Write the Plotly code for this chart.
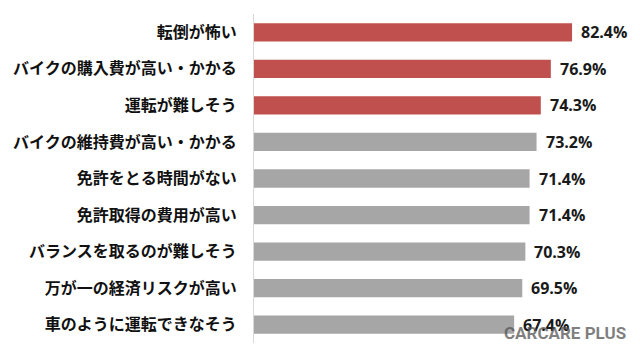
import plotly.graph_objects as go

categories = [
    "転倒が怖い",
    "バイクの購入費が高い・かかる",
    "運転が難しそう",
    "バイクの維持費が高い・かかる",
    "免許をとる時間がない",
    "免許取得の費用が高い",
    "バランスを取るのが難しそう",
    "万が一の経済リスクが高い",
    "車のように運転できなそう",
]
values = [82.4, 76.9, 74.3, 73.2, 71.4, 71.4, 70.3, 69.5, 67.4]
highlight = [True, True, True, False, False, False, False, False, False]

RED = "#C0504D"
GRAY = "#A6A6A6"
colors = [RED if h else GRAY for h in highlight]

fig = go.Figure()
fig.add_trace(go.Bar(
    y=categories,
    x=values,
    orientation="h",
    marker=dict(color=colors, line=dict(width=0)),
    width=0.5,
    hoverinfo="skip",
))

annotations = []
for c, v in zip(categories, values):
    annotations.append(dict(
        x=v, y=c, xref="x", yref="y",
        text=f"{v:.1f}%",
        showarrow=False,
        xanchor="left", yanchor="middle",
        xshift=7,
        font=dict(family="Open Sans, Noto Sans, sans-serif", size=16, color="#1a1a1a", weight="bold"),
    ))

annotations.append(dict(
    x=1.0, y=0.0, xref="paper", yref="paper",
    text="CARCARE PLUS",
    showarrow=False,
    xanchor="right", yanchor="bottom",
    xshift=-12, yshift=-2,
    font=dict(family="Roboto, Liberation Sans, sans-serif", size=17,
              color="rgba(85,85,85,0.75)", weight="bold"),
))

fig.update_layout(
    width=632, height=347,
    margin=dict(l=246, r=0, t=6, b=12),
    paper_bgcolor="white",
    plot_bgcolor="white",
    showlegend=False,
    annotations=annotations,
    xaxis=dict(range=[0, 100], visible=False, fixedrange=True),
    yaxis=dict(
        autorange="reversed",
        showline=True, linecolor="#D9D9D9", linewidth=1,
        showgrid=False, zeroline=False,
        ticks="", ticklabelstandoff=13,
        tickfont=dict(family="Noto Sans CJK JP", size=16, color="#111111", weight="bold"),
        automargin=False,
    ),
)

fig.write_html("out.html")
